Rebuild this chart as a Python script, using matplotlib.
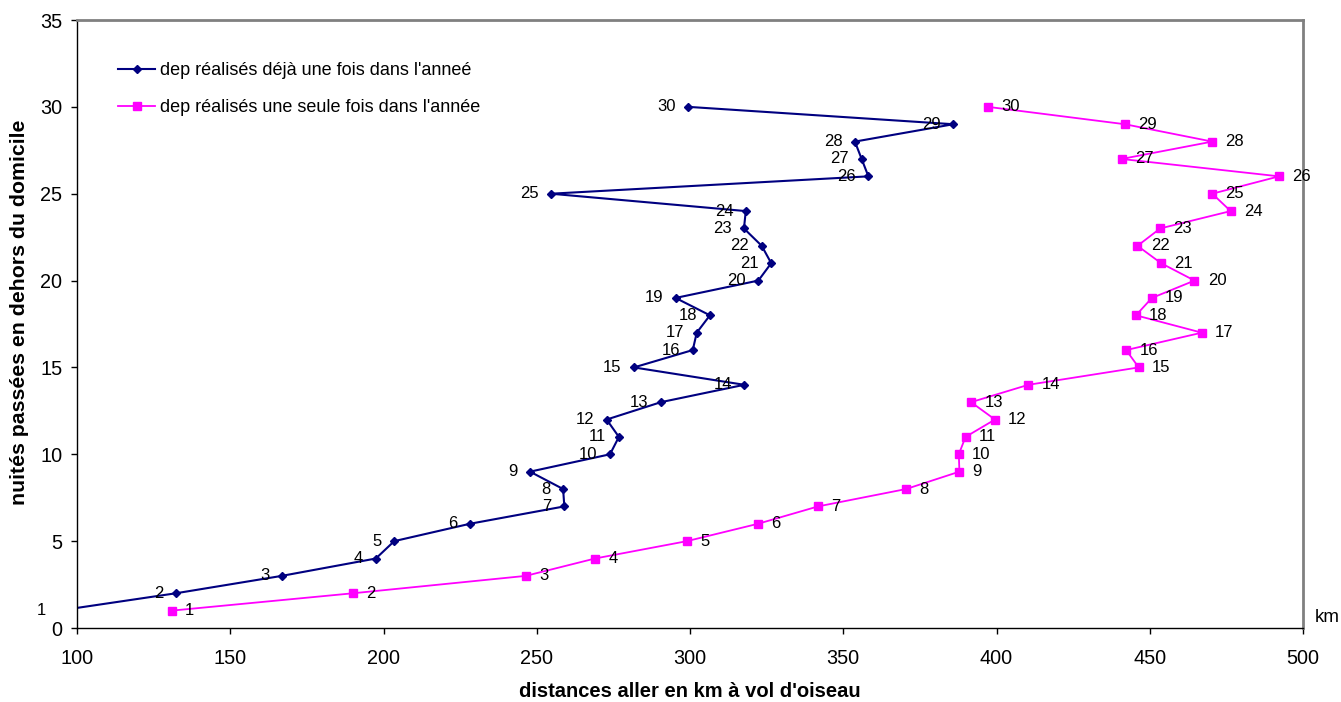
import matplotlib
matplotlib.use("Agg")
import matplotlib.pyplot as plt

plt.rcParams['font.family'] = ['Liberation Sans', 'DejaVu Sans']

# nights spent away from home (y) against one-way distance in km (x)
nights = list(range(1, 31))

dist_repeated = [94.0, 132.3, 166.8, 197.5, 203.5, 228.2, 259.0, 258.6, 247.8, 273.9,
                 276.8, 272.8, 290.5, 317.7, 281.7, 300.9, 302.2, 306.5, 295.3, 322.3,
                 326.5, 323.4, 317.6, 318.2, 254.6, 358.2, 356.0, 353.8, 385.9, 299.4]

dist_single = [130.9, 190.1, 246.4, 269.0, 299.0, 322.2, 341.8, 370.5, 387.9, 387.7,
               389.9, 399.5, 391.7, 410.4, 446.4, 442.3, 467.0, 445.5, 450.7, 464.6,
               453.7, 446.0, 453.4, 476.4, 470.4, 492.2, 440.8, 470.4, 441.9, 397.2]

label_repeated = "dep réalisés déjà une fois dans l'anneé"
label_single = "dep réalisés une seule fois dans l'année"

x_ticks = list(range(100, 501, 50))
y_ticks = list(range(0, 36, 5))

fig = plt.figure(figsize=(13.41, 7.02), dpi=100)
ax = fig.add_axes([77 / 1341, 1 - 628 / 702, 1226 / 1341, 608 / 702])

ax.plot(dist_repeated, nights, color='#000080', lw=1.5, marker='D', ms=4.5,
        label=label_repeated)
ax.plot(dist_single, nights, color='#FF00FF', lw=1.3, marker='s', ms=6,
        label=label_single)

for x, n in zip(dist_repeated, nights):
    ax.annotate(str(n), (x, n), xytext=(-9, 0), textcoords='offset points',
                ha='right', va='center', fontsize=12, annotation_clip=False)
for x, n in zip(dist_single, nights):
    ax.annotate(str(n), (x, n), xytext=(9.5, 0), textcoords='offset points',
                ha='left', va='center', fontsize=12, annotation_clip=False)

ax.set_xlim(100, 500)
ax.set_ylim(0, 35)
ax.set_xticks(x_ticks)
ax.set_yticks(y_ticks)
ax.tick_params(axis='both', direction='out', length=4.5, width=1, labelsize=14.3,
               color='black')
ax.tick_params(axis='x', pad=10.5)
ax.tick_params(axis='y', pad=6)

for side in ('left', 'bottom'):
    ax.spines[side].set_color('black')
    ax.spines[side].set_linewidth(1)
for side in ('top', 'right'):
    ax.spines[side].set_color('#808080')
    ax.spines[side].set_linewidth(2)

ax.set_xlabel("distances aller en km à vol d'oiseau", fontsize=14.5, fontweight='bold')
ax.xaxis.set_label_coords(0.5, -0.089)
ax.set_ylabel("nuités passées en dehors du domicile", fontsize=15.3, fontweight='bold')
ax.yaxis.set_label_coords(-0.039, 0.52)

fig.text(1315 / 1341, 1 - 618 / 702, "km", fontsize=13.5, ha='left', va='center')

ax.legend(loc='upper left', bbox_to_anchor=(118 / 1341, 1 - 62 / 702),
          bbox_transform=fig.transFigure, frameon=False, fontsize=13,
          handlelength=2.05, handletextpad=0.28, borderpad=0, borderaxespad=0,
          labelspacing=1.1)

fig.savefig("out.png", dpi=100)
